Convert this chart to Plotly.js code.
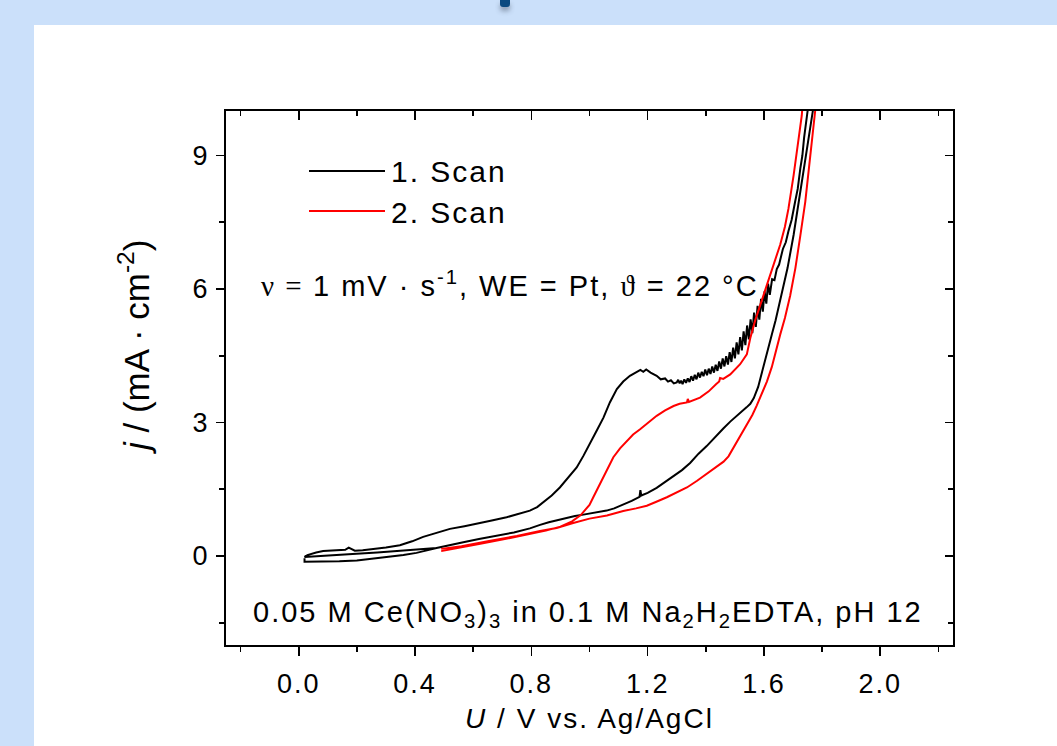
<!DOCTYPE html>
<html>
<head>
<meta charset="utf-8">
<script src="https://cdn.plot.ly/plotly-3.0.1.min.js"></script>
<style>
  html, body { margin: 0; padding: 0; }
  body { width: 1057px; height: 746px; background: rgb(203,224,250); position: relative; overflow: hidden; }
  #panel { position: absolute; left: 34px; top: 25px; width: 1023px; height: 721px; background: #ffffff; }
  #mark { position: absolute; left: 500px; top: 0px; width: 10px; height: 7px; background: #0b4a80; border-radius: 0 0 3px 3px; box-shadow: 0 4px 5px rgba(60,70,90,0.45); }
  #chart { position: absolute; left: 0; top: 0; width: 1057px; height: 746px; }
  .annotation-text { letter-spacing: 2px; }
  .g-xtitle text { letter-spacing: 2px; }
  .xtick text { letter-spacing: 2px; }
</style>
</head>
<body>
<div id="panel"></div>
<div id="mark"></div>
<div id="chart"></div>
<script>
// ---- Scan 1 (black) : U / V vs Ag/AgCl and j / mA cm^-2 ----
const scan1U = [
  0.474, 0.40, 0.347, 0.27, 0.199, 0.12, 0.06, 0.02,
  0.03, 0.06, 0.084, 0.11, 0.141, 0.16, 0.172, 0.18, 0.193, 0.22, 0.256, 0.30, 0.348,
  0.39, 0.428, 0.47, 0.52, 0.57, 0.612, 0.66, 0.715, 0.76, 0.795, 0.82, 0.841, 0.87, 0.898,
  0.925, 0.956, 0.979, 1.002, 1.025, 1.048, 1.07, 1.094, 1.116, 1.139, 1.16, 1.175, 1.185, 1.195, 1.21,
  1.22, 1.231, 1.245, 1.26, 1.27, 1.28, 1.29, 1.300, 1.305, 1.310, 1.315, 1.320, 1.326, 1.332, 1.338, 1.344,
  1.350, 1.356, 1.362, 1.368, 1.374, 1.380, 1.386, 1.392, 1.398, 1.404, 1.410, 1.416,
  1.422, 1.428, 1.434, 1.440, 1.446, 1.452, 1.458, 1.464, 1.470, 1.476, 1.482, 1.488,
  1.494, 1.500, 1.506, 1.512, 1.518, 1.524, 1.530, 1.536, 1.542, 1.548, 1.554, 1.560,
  1.566, 1.572, 1.578, 1.584, 1.590, 1.596, 1.602, 1.608, 1.614, 1.620, 1.628, 1.636,
  1.644, 1.652, 1.665, 1.675, 1.684, 1.695, 1.707, 1.716, 1.725, 1.732, 1.738, 1.745, 1.750, 1.758,
  1.775, 1.768, 1.752, 1.738, 1.720, 1.702, 1.681, 1.656, 1.640, 1.627, 1.610, 1.598, 1.580,
  1.565, 1.553, 1.540, 1.518, 1.500, 1.484, 1.461, 1.430, 1.403, 1.375, 1.346, 1.318, 1.289,
  1.260, 1.231, 1.200, 1.178, 1.175, 1.172, 1.145, 1.116, 1.085, 1.059, 1.020, 0.979, 0.950,
  0.921, 0.898, 0.860, 0.830, 0.795, 0.740, 0.680, 0.620, 0.566, 0.520, 0.474,
  0.43, 0.405, 0.36, 0.31, 0.25, 0.20, 0.14, 0.084, 0.02, 0.02
];
const scan1J = [
  0.18, 0.14, 0.12, 0.08, 0.05, 0.02, 0.00, -0.02,
  0.02, 0.08, 0.11, 0.12, 0.13, 0.14, 0.19, 0.17, 0.12, 0.13, 0.15, 0.19, 0.24,
  0.33, 0.43, 0.52, 0.61, 0.67, 0.72, 0.79, 0.87, 0.95, 1.02, 1.10, 1.21, 1.36, 1.54,
  1.75, 1.99, 2.25, 2.52, 2.82, 3.11, 3.45, 3.75, 3.92, 4.05, 4.12, 4.18, 4.14, 4.19, 4.12,
  4.08, 4.05, 3.97, 3.99, 3.92, 3.95, 3.88, 3.90, 3.96, 3.88, 3.94, 3.86, 3.97, 3.89, 3.99, 3.91,
  4.04, 3.94, 4.07, 3.97, 4.12, 4.01, 4.14, 4.04, 4.19, 4.06, 4.21, 4.09,
  4.26, 4.12, 4.30, 4.16, 4.37, 4.21, 4.44, 4.26, 4.49, 4.30, 4.58, 4.36,
  4.68, 4.44, 4.80, 4.53, 4.92, 4.62, 5.05, 4.74, 5.18, 4.87, 5.32, 5.01,
  5.47, 5.15, 5.62, 5.31, 5.78, 5.49, 5.95, 5.67, 6.12, 5.87, 6.22, 6.20,
  6.45, 6.55, 6.90, 7.05, 7.30, 7.55, 7.96, 8.25, 8.71, 9.00, 9.40, 9.75, 10.0, 10.6,
  10.6, 10.0, 9.30, 8.71, 7.95, 7.22, 6.47, 5.72, 5.30, 4.98, 4.55, 4.22, 3.80,
  3.55, 3.42, 3.34, 3.22, 3.12, 3.02, 2.87, 2.65, 2.47, 2.30, 2.09, 1.93, 1.80,
  1.66, 1.53, 1.42, 1.36, 1.48, 1.33, 1.24, 1.15, 1.07, 1.02, 0.97, 0.93, 0.90,
  0.86, 0.82, 0.76, 0.70, 0.62, 0.53, 0.46, 0.38, 0.31, 0.25, 0.18,
  0.11, 0.07, 0.02, -0.02, -0.07, -0.10, -0.12, -0.13, -0.13, -0.05
];

// ---- Scan 2 (red) ----
const scan2U = [
  0.49, 0.55, 0.62, 0.70, 0.78, 0.85, 0.90, 0.94, 0.97, 1.00, 1.013, 1.03, 1.048, 1.065,
  1.082, 1.105, 1.128, 1.15, 1.174, 1.20, 1.231, 1.26, 1.289, 1.31, 1.335, 1.338, 1.342,
  1.38, 1.41, 1.435, 1.446, 1.449, 1.46, 1.484, 1.50, 1.518, 1.541, 1.553, 1.57, 1.59,
  1.61, 1.635, 1.656, 1.672, 1.684, 1.702, 1.719, 1.73, 1.738,
  1.79, 1.776, 1.76, 1.742, 1.725, 1.708, 1.69, 1.672, 1.656, 1.64, 1.627, 1.61, 1.59,
  1.575, 1.56, 1.545, 1.53, 1.51, 1.495, 1.478, 1.461, 1.43, 1.403, 1.37, 1.335, 1.30,
  1.266, 1.23, 1.197, 1.16, 1.116, 1.06, 1.00, 0.944, 0.887, 0.83, 0.75, 0.65, 0.56, 0.49
];
const scan2J = [
  0.11, 0.19, 0.27, 0.37, 0.47, 0.57, 0.66, 0.78, 0.92, 1.15, 1.32, 1.55, 1.77, 2.00,
  2.22, 2.42, 2.59, 2.73, 2.85, 2.99, 3.15, 3.27, 3.37, 3.42, 3.45, 3.53, 3.46,
  3.56, 3.70, 3.86, 3.92, 4.00, 3.98, 4.08, 4.18, 4.31, 4.53, 4.90, 5.30, 5.70,
  6.05, 6.60, 7.00, 7.40, 7.80, 8.56, 9.31, 9.90, 10.6,
  10.6, 10.0, 9.00, 7.96, 7.20, 6.47, 5.85, 5.35, 4.98, 4.60, 4.25, 3.92, 3.60,
  3.38, 3.17, 3.00, 2.82, 2.58, 2.40, 2.24, 2.12, 1.97, 1.84, 1.69, 1.54, 1.42,
  1.32, 1.22, 1.13, 1.07, 1.01, 0.91, 0.84, 0.74, 0.63, 0.56, 0.45, 0.33, 0.22, 0.16
];

const seriesNames = ['1. Scan', '2. Scan'];
const seriesColors = ['#000000', '#ff0000'];

const xTickVals = [0.0, 0.4, 0.8, 1.2, 1.6, 2.0];
const xTickText = ['0.0', '0.4', '0.8', '1.2', '1.6', '2.0'];
const yTickVals = [0, 3, 6, 9];
const yTickText = ['0', '3', '6', '9'];

const xTitle = '<i>U</i> / V vs. Ag/AgCl';
const yTitle = '<span style="letter-spacing:0px"><i>j</i> / (mA \u00b7 cm<sup>-2</sup>)</span>';
const SERIF = "'Liberation Serif','Times New Roman',serif";
const condText = '<span style="font-family:' + SERIF + '">\u03bd = </span>1 mV \u00b7 s<sup>-1</sup>, WE = Pt, <span style="font-family:' + SERIF + '">\u03d1</span> = 22 \u00b0C';
const solText = '0.05 M Ce(NO<sub>3</sub>)<sub>3</sub> in 0.1 M Na<sub>2</sub>H<sub>2</sub>EDTA, pH 12';

const FONT = 'Arial, "Liberation Sans", sans-serif';

const traces = [
  { x: scan1U, y: scan1J, mode: 'lines', name: seriesNames[0], line: { color: seriesColors[0], width: 2 }, showlegend: false },
  { x: scan2U, y: scan2J, mode: 'lines', name: seriesNames[1], line: { color: seriesColors[1], width: 2 }, showlegend: false },
  // empty helper trace so that the mirrored (top / right) frame axes are drawn
  { x: [null], y: [null], xaxis: 'x2', yaxis: 'y2', mode: 'lines', showlegend: false, hoverinfo: 'skip' }
];

const L = 226, R = 953, T = 111, B = 645;
const PW = R - L, PH = B - T;
const px = v => (v - L) / PW;
const py = v => (B - v) / PH;

const axisCommon = {
  showgrid: false, zeroline: false, showline: true, linecolor: '#000', linewidth: 2,
  tickcolor: '#000', tickwidth: 1.6
};

const layout = {
  width: 1057, height: 746,
  margin: { l: L, r: 1057 - R, t: T, b: 746 - B, pad: 0 },
  paper_bgcolor: 'rgba(0,0,0,0)',
  plot_bgcolor: 'rgba(0,0,0,0)',
  font: { family: FONT, color: '#000' },
  showlegend: false,
  xaxis: Object.assign({}, axisCommon, {
    range: [-0.25, 2.25], tickmode: 'array', tickvals: xTickVals, ticktext: xTickText,
    ticks: 'outside', ticklen: 9, ticklabelstandoff: 5,
    tickfont: { family: FONT, size: 27, color: '#000' },
    minor: { tick0: 0, dtick: 0.2, ticks: 'outside', ticklen: 5, tickwidth: 1.6, tickcolor: '#000', showgrid: false },
    title: { text: xTitle, font: { family: FONT, size: 28, color: '#000' }, standoff: 10 }
  }),
  xaxis2: Object.assign({}, axisCommon, {
    range: [-0.25, 2.25], overlaying: 'x', side: 'top', anchor: 'y',
    tickmode: 'array', tickvals: xTickVals, ticks: 'inside', ticklen: 9, showticklabels: false,
    minor: { tick0: 0, dtick: 0.2, ticks: 'inside', ticklen: 5, tickwidth: 1.6, tickcolor: '#000', showgrid: false }
  }),
  yaxis: Object.assign({}, axisCommon, {
    range: [-2, 10], tickmode: 'array', tickvals: yTickVals, ticktext: yTickText,
    ticks: 'outside', ticklen: 8, ticklabelstandoff: 3,
    tickfont: { family: FONT, size: 27, color: '#000' },
    minor: { tick0: 0, dtick: 1.5, ticks: 'outside', ticklen: 5, tickwidth: 1.6, tickcolor: '#000', showgrid: false }
  }),
  yaxis2: Object.assign({}, axisCommon, {
    range: [-2, 10], overlaying: 'y', side: 'right', anchor: 'x',
    tickmode: 'array', tickvals: yTickVals, ticks: 'inside', ticklen: 8, showticklabels: false,
    minor: { tick0: 0, dtick: 1.5, ticks: 'inside', ticklen: 5, tickwidth: 1.6, tickcolor: '#000', showgrid: false }
  }),
  shapes: [
    { type: 'line', xref: 'paper', yref: 'paper', x0: px(309), x1: px(385), y0: py(171), y1: py(171), line: { color: seriesColors[0], width: 2 } },
    { type: 'line', xref: 'paper', yref: 'paper', x0: px(309), x1: px(385), y0: py(211), y1: py(211), line: { color: seriesColors[1], width: 2 } }
  ],
  annotations: [
    { xref: 'paper', yref: 'paper', x: px(134), y: py(347), xanchor: 'center', yanchor: 'middle', textangle: -90, showarrow: false,
      text: yTitle, font: { family: FONT, size: 35, color: '#000' } },
    { xref: 'paper', yref: 'paper', x: px(389), y: py(172), xanchor: 'left', yanchor: 'middle', showarrow: false,
      text: seriesNames[0], font: { family: FONT, size: 30, color: '#000' } },
    { xref: 'paper', yref: 'paper', x: px(389), y: py(212), xanchor: 'left', yanchor: 'middle', showarrow: false,
      text: seriesNames[1], font: { family: FONT, size: 30, color: '#000' } },
    { xref: 'paper', yref: 'paper', x: px(259), y: py(284), xanchor: 'left', yanchor: 'middle', showarrow: false,
      text: condText, font: { family: FONT, size: 29, color: '#000' } },
    { xref: 'paper', yref: 'paper', x: px(588), y: py(614), xanchor: 'center', yanchor: 'middle', showarrow: false,
      text: solText, font: { family: FONT, size: 29, color: '#000' } }
  ]
};

Plotly.newPlot('chart', traces, layout, { staticPlot: true, displayModeBar: false });
</script>
</body>
</html>
